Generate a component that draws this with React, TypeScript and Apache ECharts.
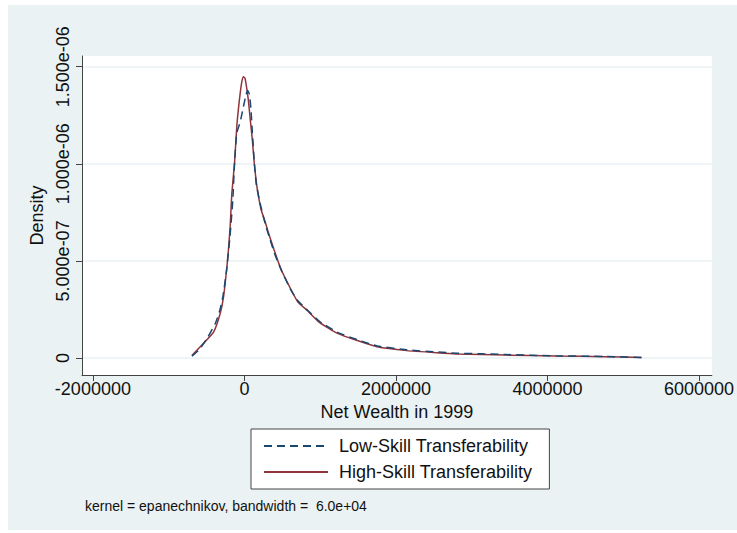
import React, { useEffect, useRef } from "react";
import * as echarts from "echarts";

// Net wealth (x) and density in units of 1e-6 (y)
const lowX = [-693000, -601000, -497000, -383000, -327000, -284000, -235000, -190000, -153000, -131000, -101000, -56000, -13000, 20000, 43000, 65000, 85000, 105000, 131000, 157000, 205000, 275000, 340000, 405000, 497000, 614000, 706000, 837000, 993000, 1229000, 1490000, 1752000, 2144000, 2536000, 2797000, 3451000, 4105000, 4758000, 5242000];
const lowY = [0.010, 0.041, 0.098, 0.179, 0.242, 0.316, 0.453, 0.628, 0.814, 0.999, 1.159, 1.215, 1.294, 1.354, 1.377, 1.360, 1.287, 1.160, 1.005, 0.895, 0.800, 0.690, 0.608, 0.530, 0.443, 0.350, 0.295, 0.245, 0.188, 0.132, 0.094, 0.062, 0.042, 0.031, 0.025, 0.018, 0.011, 0.008, 0.003];

const highX = [-693000, -536000, -405000, -318000, -275000, -231000, -209000, -187000, -166000, -131000, -101000, -78000, -56000, -35000, -13000, 9000, 30000, 52000, 78000, 105000, 131000, 157000, 183000, 222000, 275000, 314000, 392000, 488000, 618000, 706000, 837000, 990000, 1229000, 1490000, 1752000, 2144000, 2536000, 2797000, 3451000, 4105000, 4758000, 5242000];
const highY = [0.013, 0.077, 0.135, 0.232, 0.316, 0.470, 0.566, 0.685, 0.848, 0.999, 1.191, 1.287, 1.363, 1.421, 1.448, 1.439, 1.390, 1.328, 1.225, 1.122, 0.999, 0.906, 0.839, 0.762, 0.700, 0.649, 0.556, 0.453, 0.350, 0.288, 0.242, 0.183, 0.127, 0.090, 0.058, 0.038, 0.027, 0.021, 0.015, 0.010, 0.007, 0.002];

const xTicks = [-2000000, 0, 2000000, 4000000, 6000000];
const yTicks = [0, 0.5, 1.0, 1.5];

const seriesNames = ["Low-Skill Transferability", "High-Skill Transferability"];
const xTitle = "Net Wealth in 1999";
const yTitle = "Density";
const note = "kernel = epanechnikov, bandwidth =  6.0e+04";

const FONT = "'Liberation Sans', Arial, sans-serif";

function fmtY(v: number): string {
  if (Math.abs(v) < 1e-9) return "0";
  const s = (v * 1e-6).toExponential(3);
  return s.replace(/e([+-])(\d)$/, "e$10$2");
}

export default function App() {
  const ref = useRef<HTMLDivElement>(null);
  useEffect(() => {
    if (!ref.current) return;
    const chart = echarts.init(ref.current, undefined, { renderer: "svg" });
    const low = lowX.map((x, i) => [x, lowY[i]]);
    const high = highX.map((x, i) => [x, highY[i]]);
    chart.setOption({
      animation: false,
      backgroundColor: "transparent",
      textStyle: { fontFamily: FONT },
      grid: {
        left: 82,
        top: 56,
        right: 19,
        bottom: 158,
        show: true,
        backgroundColor: "#ffffff",
        borderWidth: 0,
      },
      xAxis: {
        type: "value",
        min: -2143800,
        max: 6170000,
        name: xTitle,
        nameLocation: "middle",
        nameGap: 26,
        nameTextStyle: { fontSize: 18, color: "#111", fontFamily: FONT },
        axisLine: { show: true, onZero: false, lineStyle: { color: "#444", width: 1 } },
        axisTick: { show: true, length: 6, customValues: xTicks, lineStyle: { color: "#444" } },
        axisLabel: {
          customValues: xTicks,
          fontSize: 18,
          color: "#111",
          margin: 5,
          fontFamily: FONT,
          formatter: (v: number) => String(v),
        },
        splitLine: { show: false },
      },
      yAxis: {
        type: "value",
        min: -0.0875,
        max: 1.555,
        name: yTitle,
        nameLocation: "middle",
        nameRotate: 90,
        nameGap: 35,
        nameTextStyle: { fontSize: 18, color: "#111", fontFamily: FONT },
        axisLine: { show: true, onZero: false, lineStyle: { color: "#444", width: 1 } },
        axisTick: { show: true, length: 6, customValues: yTicks, lineStyle: { color: "#444" } },
        axisLabel: {
          customValues: yTicks,
          rotate: 90,
          fontSize: 18,
          color: "#111",
          margin: 10,
          fontFamily: FONT,
          formatter: (v: number) => fmtY(v),
        },
        splitLine: { show: true, lineStyle: { color: "#eaf2f3", width: 1.5 } },
      },
      legend: {
        orient: "vertical",
        left: 251,
        top: 429,
        padding: [7, 17, 7, 12],
        itemGap: 6,
        itemWidth: 64,
        itemHeight: 14,
        backgroundColor: "#ffffff",
        borderColor: "#444",
        borderWidth: 1,
        borderRadius: 0,
        itemStyle: { opacity: 0 },
        data: seriesNames,
        textStyle: { fontSize: 18, color: "#111", lineHeight: 20, padding: [0, 0, 0, 6], fontFamily: FONT },
      },
      graphic: [
        {
          type: "text",
          left: 85,
          top: 499,
          style: { text: note, fontSize: 14, fill: "#111", fontFamily: FONT },
        },
      ],
      series: [
        {
          name: seriesNames[0],
          type: "line",
          data: low,
          symbol: "none",
          smooth: 0.15,
          lineStyle: { color: "#1a476f", width: 1.5, type: [8, 5] },
          itemStyle: { color: "#1a476f" },
          z: 3,
        },
        {
          name: seriesNames[1],
          type: "line",
          data: high,
          symbol: "none",
          smooth: 0.15,
          lineStyle: { color: "#90353b", width: 1.5 },
          itemStyle: { color: "#90353b" },
          z: 2,
        },
      ],
    });
    return () => chart.dispose();
  }, []);
  return (
    <div style={{ position: "fixed", left: 0, top: 0, width: 737, height: 533, background: "#ffffff" }}>
      <div style={{ position: "absolute", left: 8, top: 5, width: 729, height: 525, background: "#eaf2f3" }} />
      <div ref={ref} style={{ position: "absolute", left: 0, top: 0, width: 737, height: 533 }} />
    </div>
  );
}
